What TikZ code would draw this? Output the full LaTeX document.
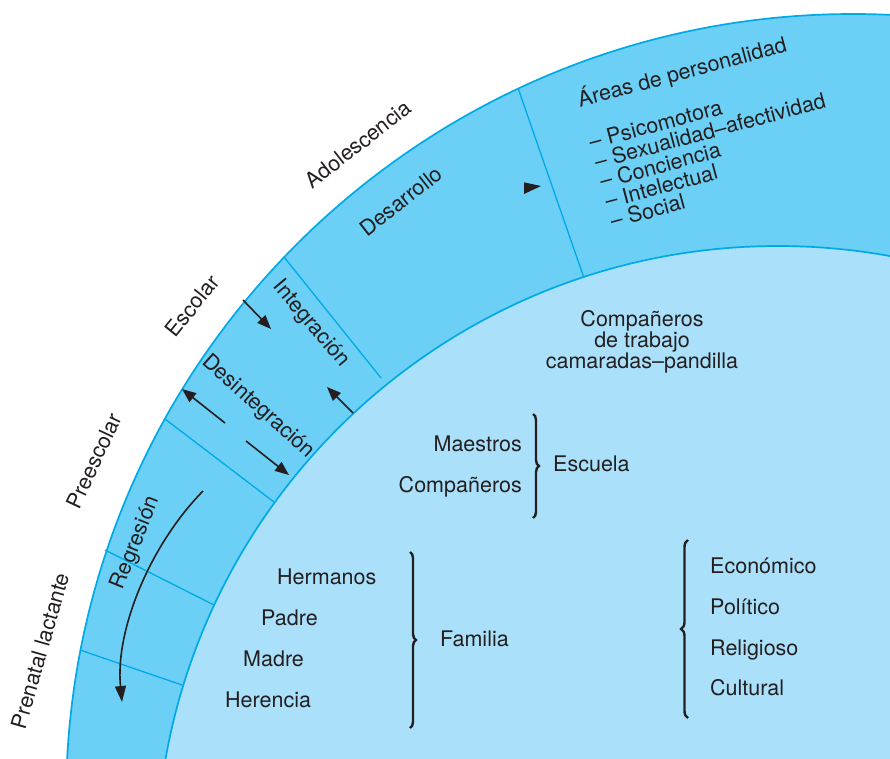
\documentclass[tikz,border=0pt]{standalone}
\usepackage{fontspec}
\setmainfont{TeX Gyre Heros}
\usetikzlibrary{arrows.meta,decorations.pathreplacing}
\definecolor{bandblue}{RGB}{108,207,246}
\definecolor{coreblue}{RGB}{170,224,250}
\definecolor{rimblue}{RGB}{0,170,230}
\definecolor{ink}{RGB}{35,31,32}
\begin{document}
\begin{tikzpicture}[x=1pt,y=-1pt,
  txt/.style={inner sep=0pt, text=ink, font=\fontsize{21.5}{20.8}\selectfont},
  divider/.style={draw=rimblue, line width=1.3pt},
  rim/.style={draw=rimblue, line width=1.7pt},
  arw/.style={draw=ink, line width=1.6pt, -{Triangle[length=14pt,width=11pt]}},
  bracestyle/.style={draw=ink, line width=2.4pt, decorate, decoration={brace, amplitude=6pt}},
]
\useasboundingbox (0,0) rectangle (890,758);

% the two discs: outer band and inner core
\begin{scope}
  \clip (0,0) rectangle (890,758);
  \coordinate (o1) at (853,801);
  \coordinate (o2) at (778,868);
  \fill[bandblue] (o1) circle[radius=787];
  \draw[rim] (o1) circle[radius=787];
  \fill[coreblue] (o2) circle[radius=622];
  \draw[rim] (o2) circle[radius=622];
\end{scope}

% dividers across the band
\coordinate (d1a) at (518,88);  \coordinate (d1b) at (584,278);
\coordinate (d2a) at (284,257); \coordinate (d2b) at (381,378);
\coordinate (d3a) at (165,419); \coordinate (d3b) at (274,502);
\coordinate (d4a) at (105,550); \coordinate (d4b) at (214,605);
\coordinate (d5a) at (80,650);  \coordinate (d5b) at (182,685);
\draw[divider] (d1a) -- (d1b);
\draw[divider] (d2a) -- (d2b);
\draw[divider] (d3a) -- (d3b);
\draw[divider] (d4a) -- (d4b);
\draw[divider] (d5a) -- (d5b);

% stage names outside the band
\node[txt, rotate=38] (adol) at (358,144) {Adolescencia};
\node[txt, rotate=51] (escolar) at (192,306) {Escolar};
\node[txt, rotate=65] (preesc) at (94,461) {Preescolar};
\node[txt, rotate=74] (prenatal) at (40,651) {Prenatal lactante};

% processes inside the band
\node[txt, rotate=38] (desarr) at (401,201) {Desarrollo};
\node[txt, rotate=-50] (integ) at (311,324) {Integración};
\node[txt, rotate=-42] (desint) at (258,407) {Desintegración};
\node[txt, rotate=68] (regres) at (136,543) {Regresión};

% arrows in the band
\coordinate (a1s) at (243,300); \coordinate (a1e) at (271,329);
\coordinate (a2s) at (353,413); \coordinate (a2e) at (327,387);
\coordinate (a3s) at (225,423); \coordinate (a3e) at (182,389);
\coordinate (a4s) at (246,441); \coordinate (a4e) at (289,475);
\draw[arw] (a1s) -- (a1e);
\draw[arw] (a2s) -- (a2e);
\draw[arw] (a3s) -- (a3e);
\draw[arw] (a4s) -- (a4e);
\coordinate (rgs) at (203,491); \coordinate (rge) at (122,702);
\draw[arw, -{Triangle[length=16pt,width=11pt]}] (rgs) .. controls (150,545) and (115,630) .. (rge);
\fill[ink] (524,182.3) -- (524,194) -- (541,186) -- cycle;

% personality areas
\begin{scope}[shift={(580,107.3)}, rotate=15, transform shape]
  \node[txt, anchor=base west] (areas) at (0,0) {Áreas de personalidad};
  \node[txt, anchor=base west] (psico) at (0,43.6) {– Psicomotora};
  \node[txt, anchor=base west] (sexual) at (0,64.05) {– Sexualidad–afectividad};
  \node[txt, anchor=base west] (concien) at (0,84.5) {– Conciencia};
  \node[txt, anchor=base west] (intel) at (0,105) {– Intelectual};
  \node[txt, anchor=base west] (social) at (0,125.4) {– Social};
\end{scope}

% social environment
\node[txt, align=center] (peers) at (642,342) {Compañeros\\de trabajo\\camaradas–pandilla};

\node[txt, anchor=base east] (maes) at (522,451) {Maestros};
\node[txt, anchor=base east] (comp) at (522,492) {Compañeros};
\node[txt, anchor=base west] (esc) at (553,471) {Escuela};
\coordinate (bEa) at (533,414); \coordinate (bEb) at (533,518);
\draw[bracestyle] (bEa) -- (bEb);

\node[txt, anchor=base west] (herm) at (277,584.5) {Hermanos};
\node[txt, anchor=base west] (padre) at (261,625.5) {Padre};
\node[txt, anchor=base west] (madre) at (243,666) {Madre};
\node[txt, anchor=base west] (heren) at (225,707) {Herencia};
\node[txt, anchor=base west] (fam) at (440,646.5) {Familia};
\coordinate (bFa) at (410,552); \coordinate (bFb) at (410,728);
\draw[bracestyle] (bFa) -- (bFb);

\coordinate (bSa) at (688,718); \coordinate (bSb) at (688,540);
\draw[bracestyle, decoration={brace, amplitude=7pt}] (bSa) -- (bSb);
\node[txt, anchor=base west] (econ) at (710,573.5) {Económico};
\node[txt, anchor=base west] (polit) at (710,614.5) {Político};
\node[txt, anchor=base west] (relig) at (710,655.5) {Religioso};
\node[txt, anchor=base west] (cult) at (710,695.5) {Cultural};
\end{tikzpicture}
\end{document}
